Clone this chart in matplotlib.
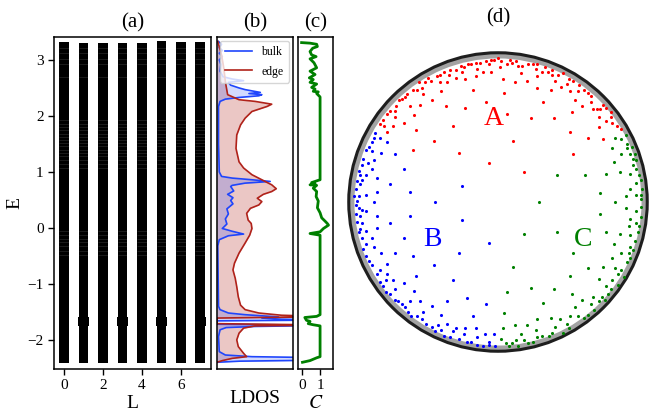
import numpy as np
import matplotlib
matplotlib.use('Agg')
import matplotlib.pyplot as plt
from matplotlib.patches import Circle, Wedge

plt.rcParams['font.family'] = ['Liberation Serif', 'DejaVu Serif']
plt.rcParams['mathtext.fontset'] = 'stix'

# ---------------- data ----------------
# (a) spectrum vs angular momentum sector L
L_vals = [0, 1, 2, 3, 4, 5, 6, 7]
band_bottom = [-2.42, -2.42, -2.42, -2.42, -2.42, -2.42, -2.42, -2.42]
band_top = [3.32, 3.31, 3.31, 3.31, 3.30, 3.33, 3.32, 3.32]
bulge_L = [1, 3, 5, 7]
bulge_E = [-1.75, -1.60]
sparse_levels = [3.22, 3.12, 3.02, 2.93, 2.70, 1.93, 1.86, 1.80, 1.74, 1.68, 1.62, 1.57,
                 1.52, 1.46, 1.40, 1.34, 1.28, 1.21, 1.14, 1.07, -0.05, -0.12, -0.19,
                 -0.26, -0.33, -0.41, -0.48]

# (b) LDOS (normalised)
E_edge = [3.33, 3.09, 2.85, 2.61, 2.38, 2.29, 2.26, 2.21, 2.17, 2.08, 1.96, 1.84, 1.66,
          1.42, 1.18, 1.07, 0.95, 0.86, 0.77, 0.70, 0.65, 0.60, 0.53, 0.47, 0.41, 0.35,
          0.26, 0.14, 0.08, -0.01, -0.13, -0.27, -0.45, -0.63, -0.75, -0.90, -1.05,
          -1.23, -1.38, -1.46, -1.52, -1.56, -1.585, -1.61, -1.71, -1.735, -1.75, -1.79,
          -1.88, -2.00, -2.12, -2.24, -2.30, -2.33, -2.37, -2.40]
ldos_edge = [0.01, 0.06, 0.09, 0.11, 0.14, 0.29, 0.50, 0.72, 0.66, 0.46, 0.37, 0.31, 0.26,
             0.25, 0.29, 0.35, 0.46, 0.59, 0.72, 0.78, 0.72, 0.61, 0.53, 0.59, 0.55, 0.44,
             0.39, 0.41, 0.45, 0.46, 0.43, 0.37, 0.29, 0.23, 0.21, 0.24, 0.26,
             0.28, 0.31, 0.37, 0.55, 0.85, 1.5, 0.0, 0.0, 1.5, 0.50, 0.35,
             0.29, 0.26, 0.28, 0.35, 0.39, 0.20, 0.07, 0.00]
E_bulk = [3.33, 3.28, 3.22, 3.17, 3.12, 3.06, 3.00, 2.92, 2.80, 2.70, 2.66, 2.63, 2.60,
          2.55, 2.50, 2.47, 2.42, 2.40, 2.38, 2.36, 2.33, 2.30, 2.26, 2.17, 1.50, 1.00,
          0.92, 0.89, 0.86, 0.83, 0.80, 0.76, 0.74, 0.66, 0.60, 0.54, 0.49, 0.43, 0.34,
          0.25, 0.16, 0.07, 0.03, -0.01, -0.06, -0.11, -0.14, -0.21, -0.32, -1.40, -1.46,
          -1.52, -1.55, -1.57, -1.59, -1.61, -1.63, -1.645, -1.66, -1.72, -1.74, -1.76,
          -1.78, -1.82, -1.94, -2.21, -2.27, -2.30, -2.32, -2.36, -2.38, -2.40]
ldos_bulk = [0.02, 0.06, 0.03, 0.07, 0.03, 0.07, 0.03, 0.05, 0.04, 0.08, 0.20, 0.35, 0.15,
             0.18, 0.29, 0.37, 0.57, 0.42, 0.59, 0.55, 0.29, 0.11, 0.04, 0.02, 0.02, 0.03,
             0.06, 0.20, 0.46, 0.70, 0.37, 0.20, 0.18, 0.22, 0.14, 0.21, 0.18, 0.21, 0.13,
             0.15, 0.11, 0.13, 0.10, 0.07, 0.20, 0.35, 0.15, 0.03, 0.01, 0.02, 0.04,
             0.15, 0.37, 0.59, 0.81, 0.59, 0.85, 1.5, 0.0, 0.0, 1.5, 0.5,
             0.12, 0.04, 0.02, 0.03, 0.11, 0.46, 1.5, 1.5, 0.30, 0.00]

# (c) local Chern marker
E_chern = [3.31, 3.30, 3.28, 3.24, 3.21, 3.15, 3.09, 3.06, 3.02, 2.95, 2.86, 2.80, 2.74,
           2.68, 2.65, 2.60, 2.57, 2.51, 2.48, 2.44, 2.43, 2.40, 2.34, 0.86, 0.85, 0.83,
           0.81, 0.79, 0.77, 0.76, 0.71, 0.65, 0.56, 0.48, 0.36, 0.27, 0.18, 0.12, 0.08,
           0.05, -0.01, -0.07, -0.10, -0.13, -1.55, -1.58, -1.60, -1.65, -1.67, -1.71,
           -1.73, -1.75, -2.30, -2.32, -2.37, -2.40]
chern = [-0.03, 0.44, 0.81, 0.85, 0.59, 0.44, 0.53, 0.78, 0.44, 0.66, 0.81, 0.44, 0.72,
         0.40, 0.62, 0.44, 0.81, 0.53, 0.72, 0.62, 0.90, 0.81, 1.00, 1.00, 0.90, 0.72,
         0.53, 0.72, 0.44, 0.81, 0.62, 0.81, 0.78, 0.90, 0.85, 1.00, 1.09, 1.28, 1.40,
         1.47, 1.19, 1.00, 0.44, 1.00, 1.00, 0.81, 0.15, 0.24, 0.44, 0.34,
         0.62, 1.00, 1.00, 0.81, 0.44, 0.02]

# (d) Poincare-disk sites of the three regions
red_pts = [(-0.08, 0.94), (-0.05, 0.95), (-0.03, 0.95), (-0.18, 0.92), (-0.15, 0.93), (-0.12, 0.93),
           (-0.20, 0.92), (-0.23, 0.90), (-0.25, 0.91), (-0.06, 0.92), (-0.14, 0.89), (-0.10, 0.87),
           (-0.05, 0.87), (0.01, 0.90), (-0.24, 0.87), (-0.28, 0.88), (-0.32, 0.88), (-0.36, 0.87),
           (-0.33, 0.85), (-0.39, 0.85), (-0.41, 0.84), (-0.22, 0.82), (-0.15, 0.84), (-0.28, 0.83),
           (-0.45, 0.81), (-0.47, 0.83), (-0.49, 0.80), (-0.53, 0.80), (-0.34, 0.80), (-0.39, 0.80),
           (-0.51, 0.76), (-0.54, 0.75), (-0.57, 0.75), (-0.17, 0.75), (-0.38, 0.74), (-0.50, 0.72),
           (-0.61, 0.72), (-0.62, 0.70), (-0.64, 0.69), (-0.66, 0.68), (-0.44, 0.68), (-0.08, 0.67),
           (-0.35, 0.64), (-0.22, 0.63), (-0.68, 0.64), (-0.69, 0.61), (-0.72, 0.61), (-0.74, 0.59),
           (-0.69, 0.57), (-0.52, 0.65), (-0.59, 0.64), (-0.56, 0.58), (-0.63, 0.53), (-0.77, 0.55),
           (-0.79, 0.52), (-0.76, 0.51), (-0.70, 0.51), (-0.30, 0.51), (-0.55, 0.48), (-0.74, 0.47),
           (-0.43, 0.41), (-0.26, 0.33), (-0.57, 0.35), (-0.06, 0.26),
           (0.00, 0.96), (0.02, 0.94), (0.06, 0.92), (0.08, 0.95), (0.09, 0.93), (0.12, 0.94),
           (0.13, 0.91), (0.16, 0.91), (0.20, 0.92), (0.23, 0.92), (0.26, 0.92), (0.03, 0.82),
           (0.11, 0.80), (0.19, 0.81), (0.15, 0.86), (0.25, 0.89), (0.29, 0.87), (0.31, 0.90),
           (0.33, 0.87), (0.36, 0.88), (0.36, 0.85), (0.40, 0.85), (0.43, 0.86), (0.26, 0.84),
           (0.38, 0.81), (0.47, 0.82), (0.50, 0.81), (0.46, 0.79), (0.26, 0.76), (0.35, 0.75),
           (0.42, 0.77), (0.48, 0.74), (0.53, 0.74), (0.54, 0.78), (0.57, 0.75), (0.60, 0.73),
           (0.04, 0.73), (0.30, 0.67), (0.51, 0.68), (0.62, 0.71), (0.62, 0.67), (0.56, 0.64),
           (0.63, 0.62), (0.66, 0.62), (0.68, 0.62), (0.70, 0.65), (0.72, 0.63), (0.06, 0.59),
           (0.22, 0.56), (0.37, 0.56), (0.49, 0.60), (0.67, 0.57), (0.75, 0.60), (0.75, 0.57),
           (0.72, 0.54), (0.76, 0.53), (0.79, 0.51), (0.82, 0.49), (0.67, 0.50), (0.48, 0.47),
           (0.60, 0.43), (0.70, 0.42), (0.10, 0.41), (0.50, 0.32), (0.17, 0.20)]
blue_pts = [(-0.82, 0.46), (-0.79, 0.43), (-0.83, 0.43), (-0.74, 0.40), (-0.84, 0.40), (-0.86, 0.37),
            (-0.88, 0.35), (-0.84, 0.34), (-0.78, 0.33), (-0.69, 0.32), (-0.90, 0.29), (-0.83, 0.28),
            (-0.87, 0.26), (-0.91, 0.25), (-0.84, 0.22), (-0.63, 0.22), (-0.93, 0.21), (-0.92, 0.18),
            (-0.88, 0.18), (-0.81, 0.16), (-0.94, 0.14), (-0.91, 0.15), (-0.72, 0.12), (-0.92, 0.12),
            (-0.95, 0.09), (-0.81, 0.07), (-0.59, 0.07), (-0.24, 0.11), (-0.93, 0.04), (-0.88, 0.05),
            (-0.96, 0.04), (-0.94, 0.01), (-0.83, 0.00), (-0.42, 0.00),
            (-0.95, -0.02), (-0.93, -0.04), (-0.91, -0.05), (-0.88, -0.06), (-0.95, -0.08),
            (-0.92, -0.09), (-0.81, -0.09), (-0.59, -0.09), (-0.94, -0.13), (-0.91, -0.14),
            (-0.72, -0.14), (-0.24, -0.12), (-0.81, -0.17), (-0.92, -0.18), (-0.88, -0.19),
            (-0.93, -0.20), (-0.84, -0.24), (-0.63, -0.24), (-0.91, -0.24), (-0.06, -0.27),
            (-0.88, -0.28), (-0.83, -0.30), (-0.90, -0.31), (-0.78, -0.34), (-0.69, -0.34),
            (-0.57, -0.36), (-0.26, -0.34), (-0.88, -0.36), (-0.86, -0.39), (-0.74, -0.41),
            (-0.84, -0.42), (-0.43, -0.42), (-0.79, -0.45), (-0.81, -0.48), (-0.74, -0.48),
            (-0.55, -0.49), (-0.79, -0.53), (-0.75, -0.52), (-0.70, -0.52), (-0.63, -0.54),
            (-0.30, -0.52), (-0.77, -0.56), (-0.69, -0.58), (-0.75, -0.60), (-0.72, -0.61),
            (-0.56, -0.59), (-0.69, -0.65), (-0.67, -0.66), (-0.34, -0.66), (-0.21, -0.64),
            (-0.08, -0.68), (-0.64, -0.68), (-0.59, -0.66), (-0.52, -0.66), (-0.44, -0.69),
            (-0.62, -0.70), (-0.60, -0.73), (-0.50, -0.73), (-0.58, -0.76), (-0.54, -0.76),
            (-0.51, -0.78), (-0.38, -0.75), (-0.17, -0.76), (-0.48, -0.81), (-0.44, -0.83),
            (-0.40, -0.82), (-0.34, -0.81), (-0.28, -0.84), (-0.22, -0.84), (-0.15, -0.84),
            (-0.42, -0.86), (-0.38, -0.85), (-0.36, -0.89), (-0.32, -0.90), (-0.30, -0.86),
            (-0.26, -0.91), (-0.23, -0.88), (-0.21, -0.93), (-0.18, -0.93), (-0.14, -0.90),
            (-0.09, -0.88), (-0.03, -0.88), (-0.14, -0.95), (-0.10, -0.96), (-0.06, -0.93),
            (-0.06, -0.95), (-0.02, -0.96)]
green_pts = [(0.85, 0.45), (0.78, 0.43), (0.82, 0.42), (0.86, 0.39), (0.89, 0.37), (0.76, 0.36),
             (0.86, 0.36), (0.82, 0.32), (0.88, 0.32), (0.91, 0.32), (0.90, 0.29), (0.77, 0.27),
             (0.92, 0.28), (0.90, 0.25), (0.92, 0.22), (0.81, 0.20), (0.88, 0.19), (0.72, 0.19),
             (0.58, 0.18), (0.39, 0.18), (0.94, 0.18), (0.95, 0.15), (0.92, 0.13), (0.88, 0.09),
             (0.96, 0.09), (0.68, 0.06), (0.85, 0.04), (0.92, 0.05), (0.95, 0.05), (0.95, 0.02),
             (0.27, 0.00), (0.78, 0.00),
             (0.85, -0.04), (0.92, -0.06), (0.95, -0.03), (0.68, -0.08), (0.88, -0.11), (0.95, -0.10),
             (0.92, -0.14), (0.87, -0.16), (0.94, -0.16), (0.17, -0.21), (0.39, -0.20), (0.72, -0.20),
             (0.81, -0.21), (0.88, -0.22), (0.93, -0.20), (0.91, -0.26), (0.77, -0.28), (0.88, -0.30),
             (0.90, -0.32), (0.50, -0.34), (0.82, -0.34), (0.87, -0.34), (0.88, -0.37), (0.76, -0.37),
             (0.86, -0.40), (0.10, -0.43), (0.70, -0.43), (0.78, -0.44), (0.60, -0.44), (0.82, -0.45),
             (0.80, -0.48), (0.48, -0.49), (0.84, -0.50), (0.67, -0.51), (0.76, -0.52), (0.80, -0.55),
             (0.72, -0.56), (0.75, -0.58), (0.06, -0.60), (0.22, -0.57), (0.37, -0.58), (0.49, -0.61),
             (0.63, -0.63), (0.69, -0.63), (0.73, -0.61), (0.67, -0.66), (0.71, -0.65), (0.56, -0.65),
             (0.30, -0.67), (0.51, -0.70), (0.62, -0.68), (0.64, -0.72), (0.04, -0.74), (0.26, -0.78),
             (0.35, -0.77), (0.41, -0.78), (0.48, -0.76), (0.53, -0.76), (0.57, -0.77), (0.60, -0.75),
             (0.03, -0.84), (0.11, -0.82), (0.19, -0.82), (0.25, -0.85), (0.29, -0.89), (0.34, -0.89),
             (0.36, -0.87), (0.38, -0.83), (0.43, -0.87), (0.46, -0.81), (0.47, -0.84), (0.15, -0.88),
             (0.02, -0.91), (0.05, -0.94), (0.09, -0.94), (0.12, -0.92), (0.17, -0.92), (0.20, -0.94),
             (0.23, -0.93), (0.26, -0.90), (0.07, -0.96), (0.13, -0.96)]
region_labels = ['A', 'B', 'C']
region_label_pos = [(-0.03, 0.56), (-0.44, -0.25), (0.57, -0.25)]
region_colors = ['red', 'blue', 'green']

# ---------------- figure ----------------
W, H = 649, 413
fig = plt.figure(figsize=(W / 100, H / 100), dpi=100)

def px_axes(x0, x1, y0, y1):
    return fig.add_axes([x0 / W, 1 - y1 / H, (x1 - x0) / W, (y1 - y0) / H])

ylim = (-2.52, 3.41)
tick_fs = 11
lab_fs = 14
title_fs = 15

# (a)
axA = px_axes(54, 211, 37, 369)
axA.bar(L_vals, np.array(band_top) - np.array(band_bottom), bottom=band_bottom,
        width=0.5, color='black')
for L in bulge_L:
    axA.bar(L, bulge_E[1] - bulge_E[0], bottom=bulge_E[0], width=0.55, color='black')
for L in L_vals:
    axA.hlines(sparse_levels, L - 0.25, L + 0.25, colors='white', lw=0.4, alpha=0.2)
axA.set_xlim(-0.52, 7.55)
axA.set_ylim(*ylim)
axA.set_xticks([0, 2, 4, 6])
axA.set_yticks([-2, -1, 0, 1, 2, 3])
axA.set_xlabel('L', fontsize=lab_fs, labelpad=2)
axA.set_ylabel('E', fontsize=lab_fs, labelpad=3)
axA.set_title('(a)', fontsize=title_fs, pad=7)

# (b)
axB = px_axes(217, 293, 37, 369)
edge_c = '#b0221a'
bulk_c = '#1f45fc'
axB.fill_betweenx(E_edge, 0, ldos_edge, color=edge_c, alpha=0.25, lw=0)
axB.fill_betweenx(E_bulk, 0, ldos_bulk, color=bulk_c, alpha=0.2, lw=0)
axB.plot(ldos_bulk, E_bulk, color=bulk_c, lw=1.2, label='bulk')
axB.plot(ldos_edge, E_edge, color=edge_c, lw=1.2, label='edge')
axB.set_xlim(0, 1)
axB.set_ylim(*ylim)
axB.set_xticks([])
axB.set_yticks([])
axB.set_xlabel('LDOS', fontsize=lab_fs, labelpad=15)
axB.set_title('(b)', fontsize=title_fs, pad=7)
axB.legend(loc='upper right', fontsize=8.5, handlelength=2.3, borderpad=0.45,
           labelspacing=0.6, borderaxespad=0.35, framealpha=0.8)

# (c)
axC = px_axes(298, 333, 37, 369)
axC.plot(chern, E_chern, color='green', lw=2)
axC.set_xlim(-0.23, 1.72)
axC.set_ylim(*ylim)
axC.set_xticks([0, 1])
axC.set_yticks([])
axC.set_xlabel('$C$', fontsize=lab_fs, labelpad=2)
axC.set_title('(c)', fontsize=title_fs, pad=7)

for ax in (axA, axB, axC):
    for s in ax.spines.values():
        s.set_linewidth(1.1)
    ax.tick_params(labelsize=tick_fs, width=1.0, length=4, direction='out')

# (d)
axD = px_axes(343, 653, 47, 357)
lim = 155 / 150
axD.set_xlim(-lim, lim)
axD.set_ylim(-lim, lim)
axD.axis('off')
axD.add_patch(Wedge((0, 0), 0.992, 0, 360, width=0.035, facecolor='#8c8c8c',
                    edgecolor='none', alpha=0.8))
axD.add_patch(Circle((0, 0), 0.995, fill=False, edgecolor='#1e1e1e', lw=2.2))
for pts, col in zip([red_pts, blue_pts, green_pts], region_colors):
    xs = [p[0] for p in pts]
    ys = [p[1] for p in pts]
    axD.scatter(xs, ys, s=5, color=col, lw=0)
for lab, (x, y), col in zip(region_labels, region_label_pos, region_colors):
    axD.text(x, y, lab, color=col, fontsize=20, ha='center', va='center')
fig.text(498 / W, 1 - 18 / H, '(d)', fontsize=title_fs, ha='center', va='center')

fig.savefig('out.png', dpi=100)
